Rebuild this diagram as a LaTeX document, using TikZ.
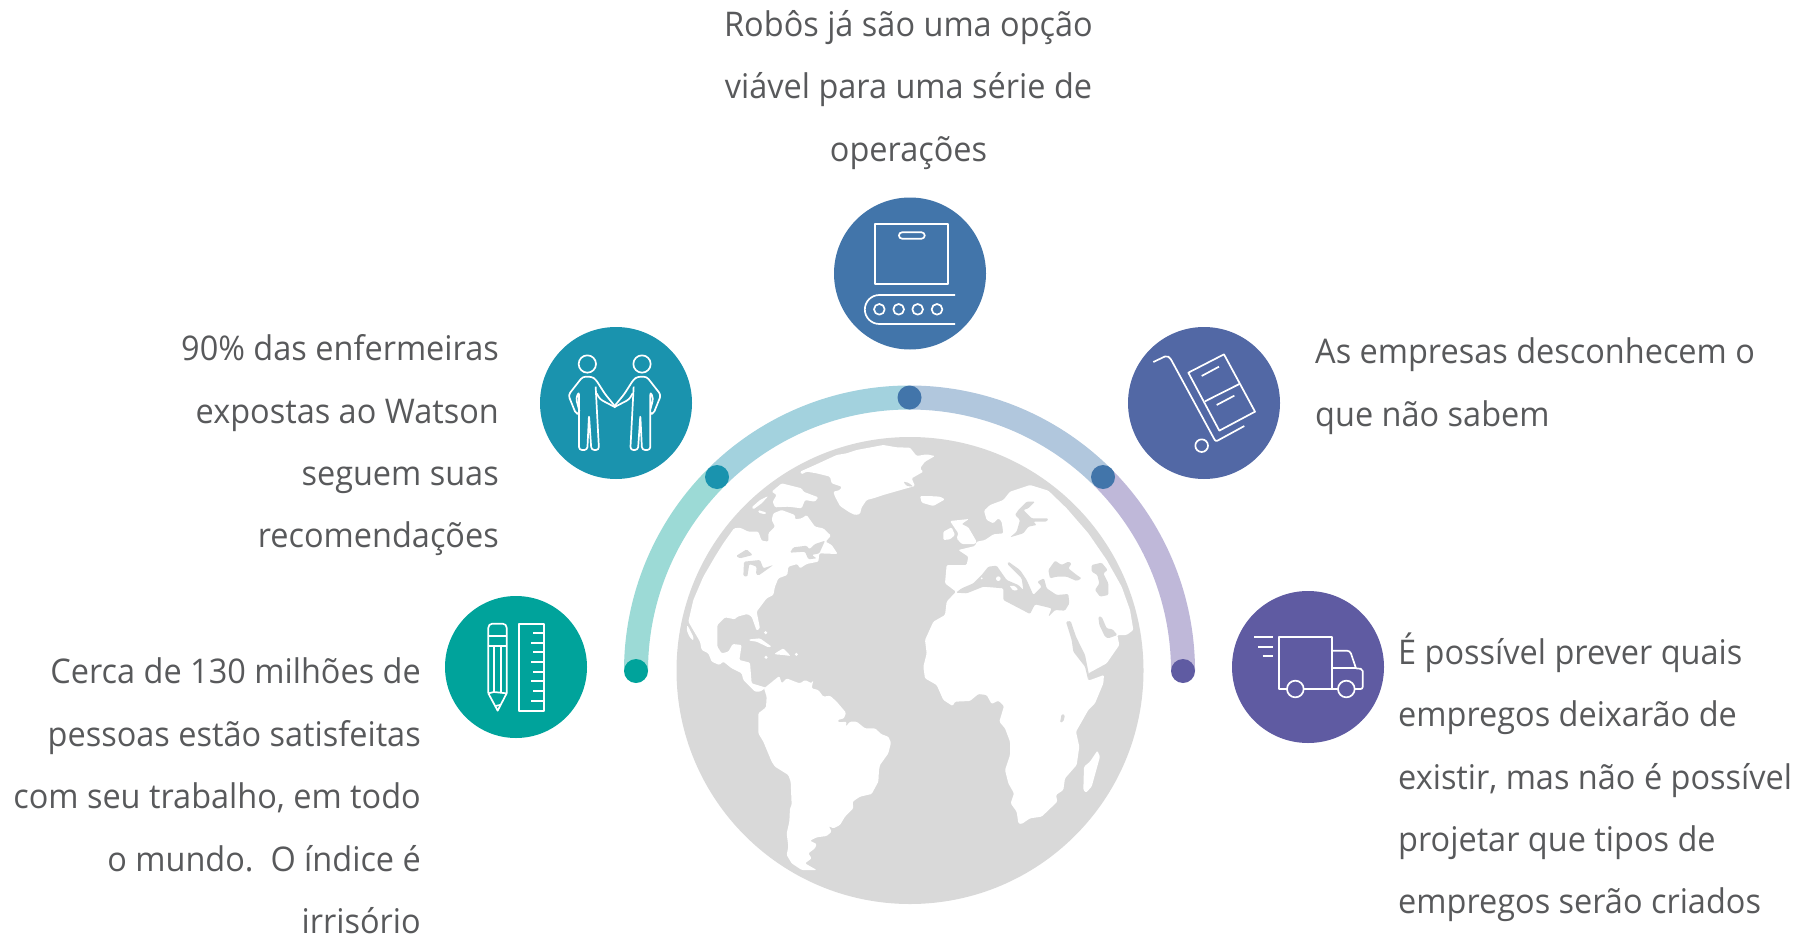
\documentclass[tikz,border=0pt]{standalone}
\usepackage{fontspec}
\setmainfont[FakeStretch=0.955]{Open Sans}
\definecolor{txtc}{HTML}{58595B}
\definecolor{cteal}{HTML}{00A39B}
\definecolor{ccyan}{HTML}{1A93AE}
\definecolor{cblue}{HTML}{4275AA}
\definecolor{cind}{HTML}{5268A5}
\definecolor{cpur}{HTML}{5F5BA2}
\definecolor{aa}{HTML}{9CDAD6}
\definecolor{ab}{HTML}{A3D2DE}
\definecolor{ac}{HTML}{B1C7DD}
\definecolor{ad}{HTML}{BFB8D9}
\definecolor{globe}{HTML}{D9D9D9}
\newcommand\fl{\rule{0pt}{30pt}}
\tikzset{
  txt/.style={inner sep=0pt,text=txtc,font=\fontsize{34}{62.4}\selectfont},
  disc/.style={circle,inner sep=0pt,minimum size=152pt,fill=#1},
  dot/.style={circle,inner sep=0pt,minimum size=24pt,fill=#1},
  seg/.style={line width=24pt,draw=#1},
  ic/.style={draw=white,line width=1.7pt,line join=round},
  land/.style={fill=white,rounded corners=1.2pt},
  sea/.style={fill=globe,rounded corners=1.2pt}
}
\begin{document}
\begin{tikzpicture}[x=1pt,y=-1pt]
\useasboundingbox (0,0) rectangle (1810,934);
% arc
\coordinate (arcC) at (909.5,671);
\draw[seg=aa] (arcC) ++(-273.5,0) arc[start angle=180,end angle=225,radius=273.5];
\draw[seg=ab] (arcC) ++(-193.4,-193.4) arc[start angle=225,end angle=270,radius=273.5];
\draw[seg=ac] (arcC) ++(0,-273.5) arc[start angle=270,end angle=315,radius=273.5];
\draw[seg=ad] (arcC) ++(193.4,-193.4) arc[start angle=315,end angle=360,radius=273.5];
\node[dot=cteal] (d1) at (636,671) {};
\node[dot=ccyan] (d2) at (717,477) {};
\node[dot=cblue] (d3) at (909.5,397.5) {};
\node[dot=cblue] (d4) at (1103,477) {};
\node[dot=cpur] (d5) at (1183,671) {};
% discs
\node[disc=cteal,minimum size=142pt] (c1) at (516,667) {};
\node[disc=ccyan] (c2) at (616,403) {};
\node[disc=cblue] (c3) at (910,273.5) {};
\node[disc=cind] (c4) at (1204,403) {};
\node[disc=cpur] (c5) at (1308,667) {};
% globe
\fill[globe] (910,670.5) circle[radius=233.5];
\begin{scope}[shift={(660,420)},x=0.33333pt,y=-0.33333pt]
% North America
\path[land] (85,605)--(100,540)--(130,470)--(165,410)--(190,370)--(222,325)--(240,323)--(265,335)--(295,335)--(305,362)--(325,365)--(325,340)--(345,320)--(335,300)--(340,280)--(365,270)--(405,285)--(405,298)--(425,295)--(440,285)--(465,320)--(490,325)--(513,347)--(497,365)--(515,375)--(533,402)--(478,400)--(475,425)--(440,432)--(420,445)--(412,432)--(385,440)--(382,465)--(355,475)--(345,500)--(340,525)--(320,535)--(290,575)--(300,625)--(290,632)--(275,590)--(262,582)--(232,590)--(225,598)--(195,592)--(172,615)--(172,680)--(185,700)--(205,695)--(218,672)--(245,675)--(238,720)--(270,728)--(275,790)--(318,803)--(300,815)--(285,815)--(250,780)--(245,760)--(215,745)--(190,725)--(178,735)--(155,725)--(145,700)--(125,690)--(120,665)--cycle;
\path[land] (82,615)--(100,650)--(100,662)--(88,650)--(80,630)--cycle;
% lakes and gulf
\path[sea] (228,408)--(260,388)--(278,405)--(240,415)--cycle;
\path[sea] (252,425)--(300,420)--(310,445)--(340,435)--(295,467)--(288,462)--(290,440)--(268,432)--(262,470)--(250,468)--cycle;
\path[sea] (390,398)--(400,382)--(440,377)--(448,388)--(465,372)--(495,362)--(478,400)--(455,405)--(470,415)--(445,418)--(435,395)--cycle;
% arctic
\path[land] (365,190)--(425,205)--(430,215)--(475,232)--(465,245)--(435,240)--(425,265)--(385,260)--(345,262)--(338,245)--(350,225)--(335,215)--cycle;
\path[land] (300,240)--(325,228)--(305,250)--(280,268)--(275,262)--cycle;
\path[land] (295,270)--(320,278)--(315,283)--(295,278)--cycle;
% Greenland
\path[land] (420,155)--(465,135)--(530,105)--(560,100)--(590,90)--(670,75)--(710,82)--(750,83)--(770,108)--(800,103)--(825,108)--(795,125)--(780,145)--(790,155)--(755,175)--(765,198)--(740,205)--(670,225)--(640,235)--(620,240)--(605,262)--(600,282)--(585,285)--(565,275)--(540,258)--(525,230)--(520,215)--(540,210)--(545,200)--(515,190)--(510,170)--(470,160)--(440,155)--(425,163)--cycle;
\path[sea] (730,185)--(745,188)--(760,200)--(740,198)--cycle;
% Iceland, Ireland, Britain
\path[land] (780,228)--(805,228)--(840,230)--(855,238)--(820,258)--(785,248)--cycle;
\path[land] (850,335)--(875,322)--(885,345)--(870,358)--(850,360)--cycle;
\path[land] (870,303)--(927,297)--(905,312)--(925,322)--(950,365)--(945,372)--(905,372)--(890,355)--(895,340)--cycle;
% Caribbean
\path[land] (268,658)--(300,655)--(335,680)--(325,682)--(290,665)--(268,662)--cycle;
\path[land] (345,700)--(370,685)--(392,708)--(370,705)--(345,703)--cycle;
\fill[white] (318,712) circle[radius=5] (409,703) circle[radius=5] (317,638) circle[radius=5];
% South America
\path[land] (312,805)--(358,768)--(365,790)--(380,775)--(405,785)--(420,790)--(435,780)--(455,790)--(460,780)--(455,805)--(475,810)--(490,830)--(510,827)--(530,845)--(558,878)--(552,895)--(533,900)--(535,907)--(560,905)--(557,920)--(570,905)--(590,905)--(615,925)--(645,925)--(665,943)--(685,950)--(693,968)--(685,1000)--(660,1035)--(657,1050)--(655,1085)--(635,1122)--(600,1130)--(578,1145)--(580,1165)--(555,1190)--(540,1215)--(520,1225)--(505,1218)--(500,1205)--(515,1235)--(500,1248)--(470,1252)--(450,1262)--(470,1272)--(465,1285)--(445,1300)--(455,1315)--(435,1330)--(470,1350)--(425,1350)--(395,1330)--(380,1305)--(385,1280)--(380,1240)--(388,1205)--(390,1165)--(395,1155)--(392,1085)--(385,1065)--(345,1040)--(335,1025)--(310,965)--(295,940)--(295,880)--(318,862)--(320,830)--cycle;
% Eurasia + Africa
\path[land] (1420,630)--(1410,570)--(1385,500)--(1340,420)--(1285,340)--(1220,265)--(1165,212)--(1110,195)--(1050,215)--(1030,240)--(990,255)--(972,272)--(980,300)--(1000,310)--(1015,295)--(1025,305)--(1030,340)--(1000,343)--(975,360)--(950,365)--(945,378)--(895,390)--(925,410)--(920,435)--(860,435)--(855,490)--(888,515)--(860,545)--(855,585)--(820,605)--(795,660)--(800,700)--(790,740)--(795,775)--(830,795)--(850,840)--(878,858)--(885,845)--(930,843)--(955,822)--(980,825)--(995,852)--(1015,842)--(1032,858)--(1018,905)--(1035,925)--(1050,965)--(1050,1005)--(1035,1050)--(1045,1090)--(1062,1120)--(1052,1150)--(1070,1175)--(1075,1210)--(1085,1212)--(1110,1195)--(1145,1190)--(1192,1145)--(1188,1125)--(1210,1110)--(1215,1075)--(1250,1035)--(1258,980)--(1248,935)--(1285,870)--(1305,850)--(1330,790)--(1332,765)--(1285,782)--(1285,760)--(1340,730)--(1378,675)--(1372,645)--(1400,645)--cycle;
% Red Sea
\path[sea] (1218,605)--(1232,603)--(1248,650)--(1275,705)--(1287,765)--(1285,782)--(1275,740)--(1240,695)--(1235,660)--cycle;
% Persian Gulf
\path[sea] (1315,590)--(1325,590)--(1340,625)--(1358,628)--(1372,645)--(1345,655)--(1335,650)--(1318,615)--cycle;
% Mediterranean
\path[sea] (888,518)--(920,520)--(970,500)--(1030,505)--(1030,540)--(1110,582)--(1125,553)--(1175,565)--(1165,590)--(1185,570)--(1215,572)--(1228,550)--(1225,522)--(1190,525)--(1160,505)--(1152,475)--(1132,485)--(1145,500)--(1120,525)--(1100,480)--(1080,450)--(1045,425)--(1042,432)--(1085,475)--(1090,510)--(1075,495)--(1040,480)--(1010,437)--(985,440)--(965,465)--(940,490)--(905,505)--cycle;
\fill[white] (1015,476) circle[radius=7] (965,475) circle[radius=3];
\path[land] (1048,497)--(1065,498)--(1075,510)--(1060,512)--cycle;
% Black Sea, Caspian
\path[sea] (1170,475)--(1165,450)--(1185,422)--(1205,435)--(1225,425)--(1235,430)--(1225,445)--(1250,465)--(1265,475)--(1250,483)--(1220,470)--(1190,470)--cycle;
\path[sea] (1295,435)--(1325,428)--(1343,450)--(1330,460)--(1345,490)--(1345,525)--(1320,530)--(1305,510)--(1318,490)--(1312,465)--(1295,455)--cycle;
% Baltic
\path[sea] (1100,245)--(1125,245)--(1105,265)--(1090,270)--(1115,295)--(1165,295)--(1160,305)--(1120,305)--(1130,315)--(1105,320)--(1090,340)--(1050,352)--(1070,335)--(1080,300)--(1065,285)--(1075,270)--cycle;
% Madagascar, lake
\path[land] (1312,992)--(1320,1010)--(1295,1100)--(1278,1118)--(1270,1110)--(1272,1040)--(1290,1025)--cycle;
\path[sea] (1205,882)--(1215,885)--(1210,905)--(1200,908)--cycle;
\end{scope}
% box icon
\begin{scope}[shift={(820,190)},x=0.33333pt,y=-0.33333pt]
\draw[ic] (165,101) rectangle (385,282);
\draw[ic,rounded corners=3pt] (237,127) rectangle (314,146);
\draw[ic] (405,315)--(178,315) arc[start angle=270,end angle=90,radius=43.5]--(405,402);
\foreach \x in {178,236,293,351} \draw[ic] (\x,358) circle[radius=16];
% cart
\draw[ic,rounded corners=2pt] (1000,516)--(1040,497)--(1050,503)--(1187,755)--(1273,708);
\draw[ic] (1145,767) circle[radius=19];
\draw[ic] (1105,548)--(1212,493)--(1305,665)--(1198,722)--cycle;
\draw[ic] (1155,634)--(1258,582);
\draw[ic] (1145,558)--(1197,530);
\draw[ic] (1190,645)--(1243,617);
\end{scope}
% pencil and ruler
\begin{scope}[shift={(430,590)},x=0.33333pt,y=-0.33333pt]
\draw[ic,rounded corners=4pt] (175,310)--(175,101)--(230,101)--(230,310);
\draw[ic] (175,138)--(230,138) (175,167)--(230,167) (192,167)--(192,306) (212,167)--(212,306);
\draw[ic] (175,310)--(203,362)--(230,310)--(192,306)--(175,310);
\draw[ic] (196,348)--(210,345);
\draw[ic] (267,101) rectangle (341,362);
\foreach \y/\x in {129/310,158/303,187/310,216/303,245/310,274/303,303/310,332/303} \draw[ic] (\x,\y)--(341,\y);
\end{scope}
% truck
\begin{scope}[shift={(1170,580)},x=0.33333pt,y=-0.33333pt]
\draw[ic] (253,172)--(309,172) (265,200)--(309,200) (278,229)--(309,229);
\draw[ic] (352,327)--(327,327)--(327,172)--(485,172)--(485,327)--(400,327);
\draw[ic] (485,327)--(505,327);
\draw[ic,rounded corners=3pt] (485,212)--(540,212)--(558,265);
\draw[ic] (485,265)--(558,265);
\draw[ic,rounded corners=2pt] (558,265)--(578,267)--(578,327)--(555,327);
\draw[ic] (376,327) circle[radius=25] (529,327) circle[radius=25];
\end{scope}
% people
\begin{scope}[shift={(430,190)},x=0.33333pt,y=-0.33333pt]
\foreach \m in {0,1}{
\begin{scope}[cm={1-2*\m,0,0,1,(\m*1108*0.33333pt,0)}]
\draw[ic] (472,522) circle[radius=26];
\draw[ic,rounded corners=3pt] (556,650)--(525,612)--(497,568)--(485,560)--(458,560)--(415,615)--(438,672)--(450,670)--(438,625)--(447,605)--(447,780)--(472,780)--(477,675)--(484,780)--(507,780)--(497,590);
\draw[ic,rounded corners=3pt] (500,610)--(510,628)--(556,652);
\end{scope}}
\end{scope}
% texts
\node[txt,align=center,anchor=north] (t3) at (908.5,6) {\fl Robôs já são uma opção\\viável para uma série de\\operações};
\node[txt,align=right,anchor=north east] (t2) at (499,330.5) {\fl 90\% das enfermeiras\\expostas ao Watson\\seguem suas\\recomendações};
\node[txt,align=left,anchor=north west] (t4) at (1315,333.5) {\fl As empresas desconhecem o\\que não sabem};
\node[txt,align=right,anchor=north east] (t1) at (421,653.7) {\fl Cerca de 130 milhões de\\pessoas estão satisfeitas\\com seu trabalho, em todo\\o mundo.\ \ O índice é\\irrisório};
\node[txt,align=left,anchor=north west] (t5) at (1398,632.5) {\fl É possível prever quais\\empregos deixarão de\\existir, mas não é possível\\projetar que tipos de\\empregos serão criados};
\end{tikzpicture}
\end{document}
